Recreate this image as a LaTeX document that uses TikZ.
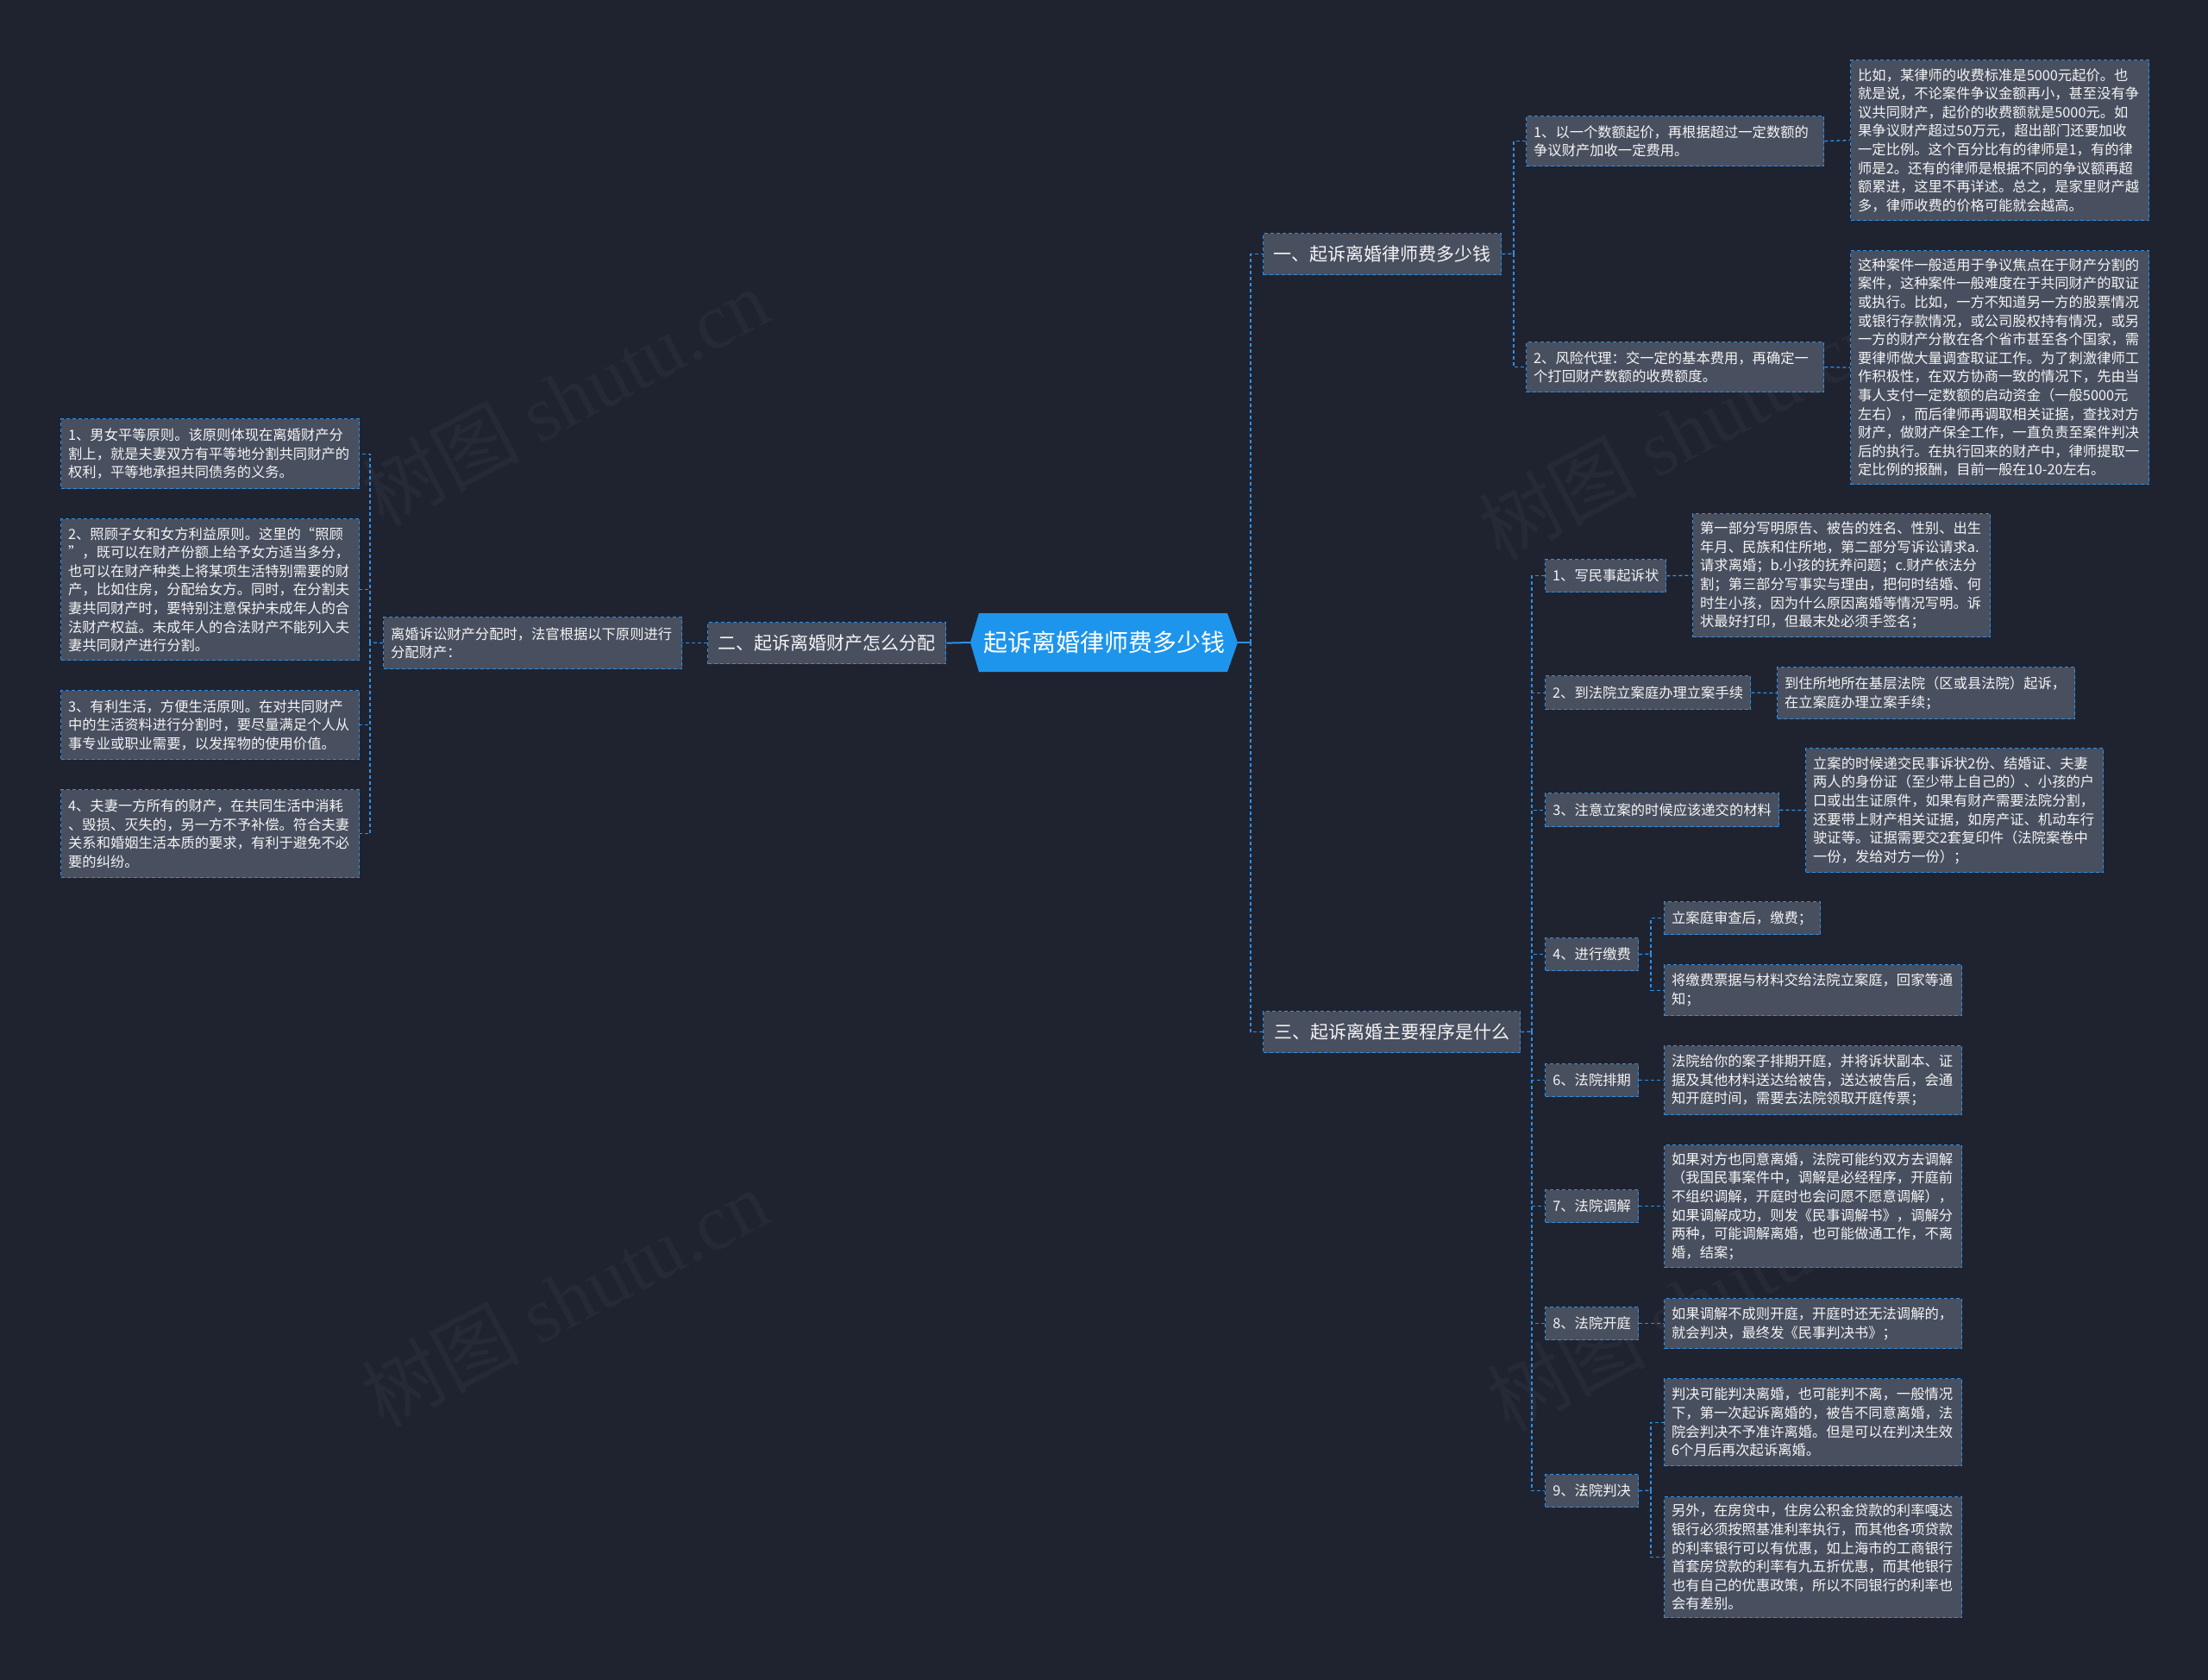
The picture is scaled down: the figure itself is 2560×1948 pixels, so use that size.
\documentclass[tikz,border=0pt]{standalone}
\usepackage{fontspec}
\setmainfont{Noto Sans CJK SC}
\newfontfamily\wmserif{Liberation Serif}
\usetikzlibrary{calc}
\definecolor{bg}{HTML}{1F2330}
\definecolor{boxf}{HTML}{484F5F}
\definecolor{bord}{HTML}{2E8FE3}
\definecolor{cblue}{HTML}{1E95EC}
\definecolor{txt}{HTML}{F4F4F4}
\definecolor{wm}{HTML}{262A37}
\tikzset{
  tb/.style={draw=bord, line width=1.3pt, dash pattern=on 4pt off 3pt, fill=boxf, text=txt,
    anchor=north west, align=left, inner xsep=8.5pt, inner ysep=0pt,
    font=\fontsize{16.3}{21.6}\selectfont},
  lvone/.style={tb, align=center, inner xsep=12pt, font=\fontsize{21}{26}\selectfont},
  conn/.style={draw=bord, line width=1.3pt, dash pattern=on 4pt off 3pt},
  sconn/.style={draw=bord, line width=2pt},
  wmark/.style={text=wm, rotate=28, font=\fontsize{92}{100}\selectfont},
}
\newcommand\tbox[6]{\node[tb, minimum width=#4, minimum height=#5, text width=#4-17] (#1) at (#2,#3) {#6};}
\newcommand\onebox[6]{\node[tb, align=center, minimum width=#4, minimum height=#5] (#1) at (#2,#3) {#6};}
\begin{document}
\begin{tikzpicture}[x=1pt,y=-1pt]
\useasboundingbox (0,0) rectangle (2560,1948);
\fill[bg] (0,0) rectangle (2560,1948);
% watermarks
\node[wmark] (w1) at (655,460) {树图 {\wmserif shutu.cn}};
\node[wmark] (w2) at (1950,500) {树图 {\wmserif shutu.cn}};
\node[wmark] (w3) at (655,1505) {树图 {\wmserif shutu.cn}};
\node[wmark] (w4) at (1960,1510) {树图 {\wmserif shutu.cn}};
% centre
\fill[cblue] (1125,745) -- (1135,711) -- (1423,711) -- (1435,745) -- (1423,779) -- (1135,779) -- cycle;
\node[text=white, font=\fontsize{28}{32}\selectfont, minimum width=310, minimum height=68, inner sep=0pt] (c) at (1280,745) {起诉离婚律师费多少钱};
% level one
\node[lvone, minimum width=276, minimum height=48] (n1) at (1464,270) {一、起诉离婚律师费多少钱};
\node[lvone, minimum width=274, minimum height=48] (n2) at (820,721) {二、起诉离婚财产怎么分配};
\node[lvone, minimum width=298, minimum height=48] (n3) at (1464,1172) {三、起诉离婚主要程序是什么};
% left side
\tbox{lb}{444}{715}{346}{60}{离婚诉讼财产分配时，法官根据以下原则进行\\分配财产：}
\tbox{l1}{70}{485}{346}{81}{1、男女平等原则。该原则体现在离婚财产分\\割上，就是夫妻双方有平等地分割共同财产的\\权利，平等地承担共同债务的义务。}
\tbox{l2}{70}{601}{346}{164}{2、照顾子女和女方利益原则。这里的“照顾\\”，既可以在财产份额上给予女方适当多分，\\也可以在财产种类上将某项生活特别需要的财\\产，比如住房，分配给女方。同时，在分割夫\\妻共同财产时，要特别注意保护未成年人的合\\法财产权益。未成年人的合法财产不能列入夫\\妻共同财产进行分割。}
\tbox{l3}{70}{800}{346}{80}{3、有利生活，方便生活原则。在对共同财产\\中的生活资料进行分割时，要尽量满足个人从\\事专业或职业需要，以发挥物的使用价值。}
\tbox{l4}{70}{915}{346}{102}{4、夫妻一方所有的财产，在共同生活中消耗\\、毁损、灭失的，另一方不予补偿。符合夫妻\\关系和婚姻生活本质的要求，有利于避免不必\\要的纠纷。}
% branch one
\tbox{a1}{1769}{134}{345}{58}{1、以一个数额起价，再根据超过一定数额的\\争议财产加收一定费用。}
\tbox{a2}{1769}{396}{345}{58}{2、风险代理：交一定的基本费用，再确定一\\个打回财产数额的收费额度。}
\tbox{tr1}{2145}{69}{346}{186}{比如，某律师的收费标准是5000元起价。也\\就是说，不论案件争议金额再小，甚至没有争\\议共同财产，起价的收费额就是5000元。如\\果争议财产超过50万元，超出部门还要加收\\一定比例。这个百分比有的律师是1，有的律\\师是2。还有的律师是根据不同的争议额再超\\额累进，这里不再详述。总之，是家里财产越\\多，律师收费的价格可能就会越高。}
\tbox{tr2}{2145}{290}{346}{271}{这种案件一般适用于争议焦点在于财产分割的\\案件，这种案件一般难度在于共同财产的取证\\或执行。比如，一方不知道另一方的股票情况\\或银行存款情况，或公司股权持有情况，或另\\一方的财产分散在各个省市甚至各个国家，需\\要律师做大量调查取证工作。为了刺激律师工\\作积极性，在双方协商一致的情况下，先由当\\事人支付一定数额的启动资金（一般5000元\\左右），而后律师再调取相关证据，查找对方\\财产，做财产保全工作，一直负责至案件判决\\后的执行。在执行回来的财产中，律师提取一\\定比例的报酬，目前一般在10-20左右。}
% branch three
\onebox{b1}{1791}{648}{140}{38}{1、写民事起诉状}
\tbox{b1d}{1962}{595}{345}{143}{第一部分写明原告、被告的姓名、性别、出生\\年月、民族和住所地，第二部分写诉讼请求a.\\请求离婚；b.小孩的抚养问题；c.财产依法分\\割；第三部分写事实与理由，把何时结婚、何\\时生小孩，因为什么原因离婚等情况写明。诉\\状最好打印，但最末处必须手签名；}
\onebox{b2}{1791}{783}{238}{39}{2、到法院立案庭办理立案手续}
\tbox{b2d}{2060}{773}{345}{60}{到住所地所在基层法院（区或县法院）起诉，\\在立案庭办理立案手续；}
\onebox{b3}{1791}{919}{271}{39}{3、注意立案的时候应该递交的材料}
\tbox{b3d}{2093}{867}{345}{144}{立案的时候递交民事诉状2份、结婚证、夫妻\\两人的身份证（至少带上自己的）、小孩的户\\口或出生证原件，如果有财产需要法院分割，\\还要带上财产相关证据，如房产证、机动车行\\驶证等。证据需要交2套复印件（法院案卷中\\一份，发给对方一份）；}
\onebox{b4}{1791}{1087}{108}{38}{4、进行缴费}
\tbox{b4a}{1929}{1045}{181}{38}{立案庭审查后，缴费；}
\tbox{b4b}{1929}{1118}{345}{59}{将缴费票据与材料交给法院立案庭，回家等通\\知；}
\onebox{b6}{1791}{1233}{108}{38}{6、法院排期}
\tbox{b6d}{1929}{1212}{345}{80}{法院给你的案子排期开庭，并将诉状副本、证\\据及其他材料送达给被告，送达被告后，会通\\知开庭时间，需要去法院领取开庭传票；}
\onebox{b7}{1791}{1379}{108}{38}{7、法院调解}
\tbox{b7d}{1929}{1327}{345}{142}{如果对方也同意离婚，法院可能约双方去调解\\（我国民事案件中，调解是必经程序，开庭前\\不组织调解，开庭时也会问愿不愿意调解），\\如果调解成功，则发《民事调解书》，调解分\\两种，可能调解离婚，也可能做通工作，不离\\婚，结案；}
\onebox{b8}{1791}{1515}{108}{38}{8、法院开庭}
\tbox{b8d}{1929}{1505}{345}{58}{如果调解不成则开庭，开庭时还无法调解的，\\就会判决，最终发《民事判决书》；}
\onebox{b9}{1791}{1709}{108}{38}{9、法院判决}
\tbox{b9a}{1929}{1598}{345}{101}{判决可能判决离婚，也可能判不离，一般情况\\下，第一次起诉离婚的，被告不同意离婚，法\\院会判决不予准许离婚。但是可以在判决生效\\6个月后再次起诉离婚。}
\tbox{b9b}{1929}{1735}{345}{140}{另外，在房贷中，住房公积金贷款的利率嘎达\\银行必须按照基准利率执行，而其他各项贷款\\的利率银行可以有优惠，如上海市的工商银行\\首套房贷款的利率有九五折优惠，而其他银行\\也有自己的优惠政策，所以不同银行的利率也\\会有差别。}
% connectors: centre
\coordinate (jr) at (1450,745);
\draw[sconn] (c.east) -- (jr);
\draw[conn] (jr) |- (n1.west);
\draw[conn] (jr) |- (n3.west);
\draw[sconn] (n2.east) -- (c.west);
\draw[conn] (n2.west) -- (lb.east);
% left
\coordinate (jl) at (429,745);
\draw[conn] (lb.west) -- (jl);
\foreach \k in {l1,l2,l3,l4} {\draw[conn] (jl) |- (\k.east);}
% branch one
\coordinate (ja) at (1755,294);
\draw[conn] (n1.east) -- (ja);
\draw[conn] (ja) |- (a1.west);
\draw[conn] (ja) |- (a2.west);
\draw[conn] (a1.east) -- (tr1.west);
\draw[conn] (a2.east) -- (tr2.west);
% branch three
\coordinate (jb) at (1776,1196);
\draw[conn] (n3.east) -- (jb);
\foreach \k in {b1,b2,b3,b4,b6,b7,b8,b9} {\draw[conn] (jb) |- (\k.west);}
\draw[conn] (b1.east) -- (b1d.west);
\draw[conn] (b2.east) -- (b2d.west);
\draw[conn] (b3.east) -- (b3d.west);
\draw[conn] (b6.east) -- (b6d.west);
\draw[conn] (b7.east) -- (b7d.west);
\draw[conn] (b8.east) -- (b8d.west);
\coordinate (jc) at (1914,1106);
\draw[conn] (b4.east) -- (jc);
\draw[conn] (jc) |- (b4a.west);
\draw[conn] (jc) |- (b4b.west);
\coordinate (jd) at (1914,1728);
\draw[conn] (b9.east) -- (jd);
\draw[conn] (jd) |- (b9a.west);
\draw[conn] (jd) |- (b9b.west);
\end{tikzpicture}
\end{document}
